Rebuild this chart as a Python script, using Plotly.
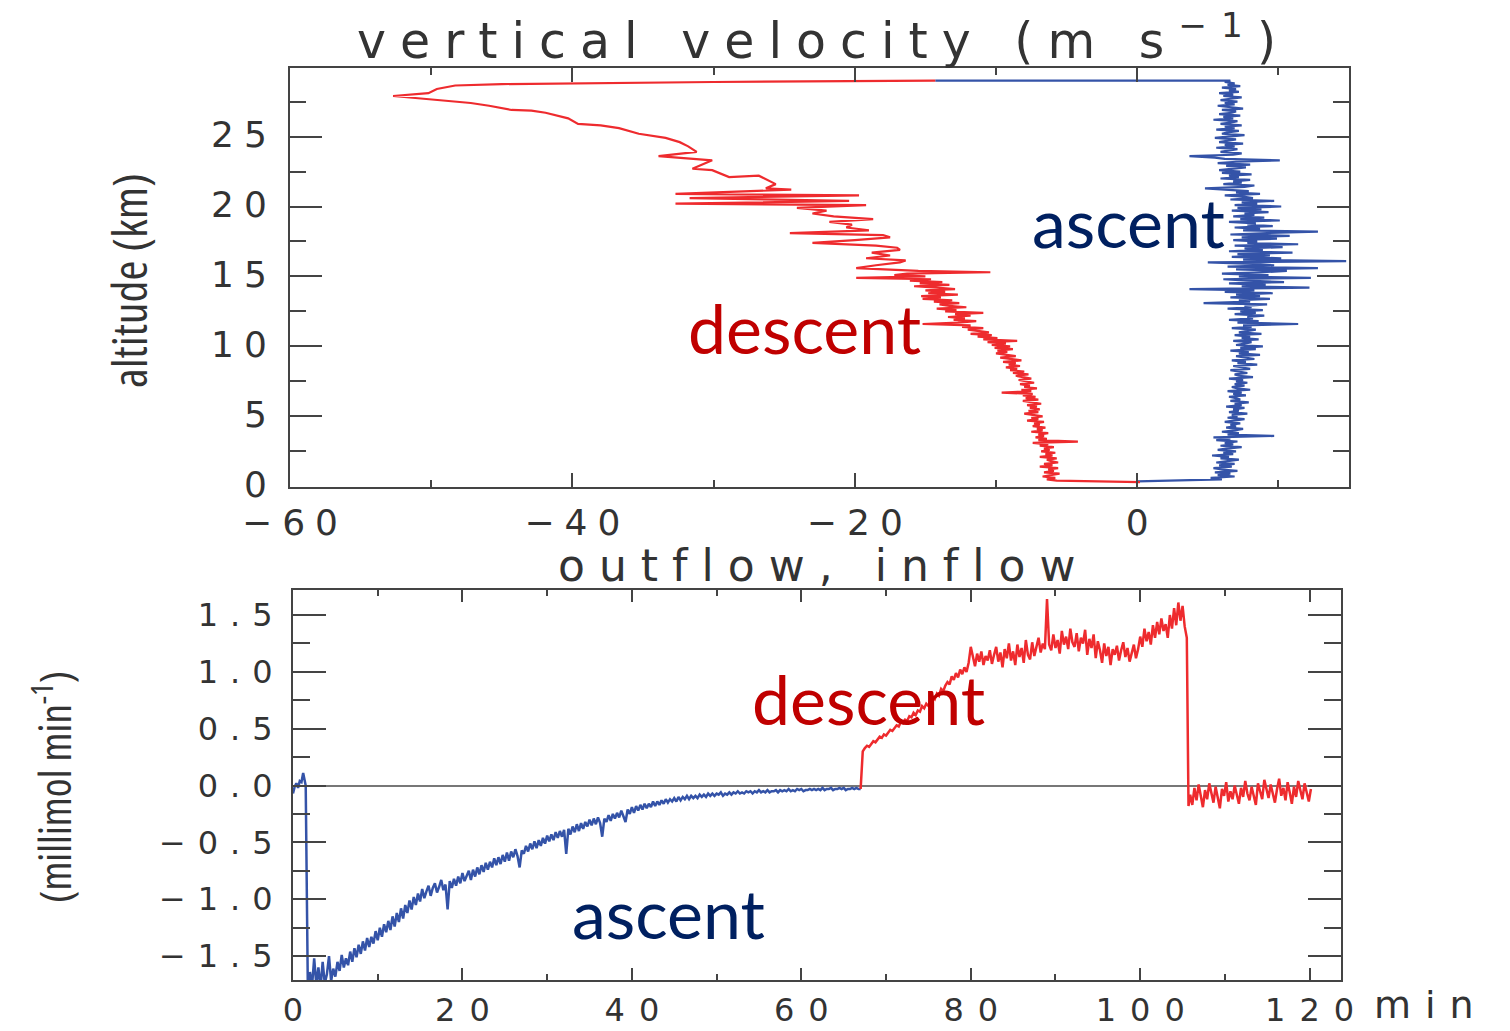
import numpy as np
import plotly.graph_objects as go

W, H = 1510, 1031

# ---------------- upper panel: vertical velocity profile ----------------
# ascent: velocity (m/s) every 0.1 km from 0.5 km up to the burst at 29 km
ascent_alt_start = 0.5
ascent_alt_step = 0.1
ascent_velocity = [
    6.0, 5.2, 6.9, 5.7, 6.6, 5.5, 7.1, 6.0, 5.4, 6.7,
    5.8, 6.9, 5.6, 6.4, 7.2, 5.9, 6.5, 5.3, 6.8, 6.1,
    7.0, 5.7, 6.3, 7.4, 5.9, 6.8, 6.2, 7.1, 5.6, 6.6,
    5.4, 9.7, 6.4, 7.2, 6.0, 6.9, 7.5, 6.3, 7.0, 6.6,
    7.3, 6.2, 6.9, 7.6, 6.4, 7.1, 6.7, 7.8, 6.5, 7.2,
    6.8, 7.6, 6.3, 7.4, 6.9, 7.9, 6.6, 7.3, 7.0, 6.5,
    7.7, 6.8, 7.4, 6.4, 8.0, 7.1, 6.7, 7.6, 6.9, 7.8,
    7.0, 7.5, 6.5, 8.2, 7.2, 6.9, 7.8, 7.3, 6.6, 8.0,
    7.4, 6.8, 8.5, 7.1, 7.7, 6.7, 8.3, 7.5, 7.0, 8.7,
    7.2, 7.9, 6.6, 8.4, 7.3, 8.9, 7.0, 7.6, 8.1, 6.8,
    8.6, 7.4, 8.0, 6.9, 8.8, 7.2, 7.7, 8.4, 6.7, 8.1,
    7.5, 11.4, 7.1, 8.6, 6.5, 8.2, 7.8, 9.0, 6.9, 8.4,
    7.3, 8.9, 6.4, 8.1, 7.6, 9.2, 4.7, 8.0, 7.2, 9.4,
    6.6, 8.7, 7.0, 9.6, 6.2, 8.3, 3.7, 12.2, 7.4, 9.1,
    6.5, 10.4, 7.8, 6.1, 12.3, 7.2, 9.3, 6.0, 8.8, 10.6,
    7.0, 12.8, 6.4, 9.7, 8.2, 5.0, 14.8, 7.5, 10.2, 6.7,
    9.4, 7.1, 11.0, 6.5, 8.9, 7.6, 10.3, 6.9, 11.4, 7.8,
    8.5, 6.8, 9.9, 7.4, 10.8, 6.6, 9.2, 12.8, 7.5, 8.7,
    6.9, 9.6, 7.8, 8.4, 6.5, 10.1, 7.3, 9.0, 6.8, 8.3,
    7.6, 9.3, 6.7, 8.8, 7.1, 10.2, 6.9, 8.5, 7.4, 9.7,
    6.6, 8.2, 7.5, 6.2, 8.7, 7.0, 7.9, 6.4, 4.8, 7.6,
    8.3, 6.1, 7.4, 6.8, 8.0, 5.9, 7.2, 6.5, 8.1, 6.0,
    7.3, 5.8, 6.9, 7.7, 6.3, 8.0, 5.7, 7.0, 10.1, 6.2,
    5.5, 3.7, 6.8, 7.4, 5.9, 6.6, 7.1, 5.6, 6.9, 6.2,
    7.5, 5.8, 6.5, 7.0, 5.5, 6.8, 7.6, 6.0, 6.4, 7.2,
    5.6, 6.9, 6.2, 7.4, 5.9, 6.6, 7.1, 5.4, 6.8, 6.1,
    7.3, 5.8, 6.7, 7.0, 6.0, 7.5, 6.4, 5.7, 6.9, 6.2,
    7.1, 5.9, 6.6, 7.4, 6.1, 6.8, 5.8, 7.2, 6.5, 7.0,
    6.0, 7.3, 6.4, 6.9, 6.2, 6.6,
]
launch_velocity = 0.0
launch_alt = 0.35
burst_alt = 29.0

# descent above 15.5 km: (velocity, altitude) pairs from the burst downward
descent_upper_velocity = [
    -14.3, -30.0, -45.0, -48.3, -49.6, -50.2, -52.7, -51.6, -49.0, -47.2,
    -45.9, -44.3, -42.9, -41.9, -40.3, -39.6, -38.0, -36.7, -35.3, -33.4,
    -32.4, -31.8, -31.2, -33.9, -30.1, -31.5, -30.1, -28.9, -26.8, -25.6,
    -26.3, -24.5, -32.7, -19.7, -31.7, -20.4, -32.7, -19.2, -24.1, -22.0,
    -23.0, -21.5, -18.7, -21.8, -20.2, -20.6, -19.0, -24.6, -18.0, -17.5,
    -20.0, -23.0, -18.5, -17.0, -16.8, -18.8, -17.5, -19.2, -16.4, -16.8,
    -18.5, -19.9,
]
descent_upper_alt = [
    29.0, 28.9, 28.75, 28.65, 28.4, 28.1, 27.9, 27.8, 27.6, 27.4,
    27.2, 26.9, 26.85, 26.7, 26.3, 25.9, 25.8, 25.6, 25.2, 24.9,
    24.6, 24.3, 23.9, 23.6, 23.3, 22.7, 22.6, 22.1, 22.2, 21.6,
    21.3, 21.2, 20.9, 20.8, 20.6, 20.4, 20.2, 20.1, 19.9, 19.7,
    19.5, 19.3, 19.1, 18.9, 18.7, 18.5, 18.3, 18.1, 17.95, 17.8,
    17.6, 17.4, 17.2, 17.05, 16.9, 16.7, 16.5, 16.3, 16.15, 16.0,
    15.8, 15.6,
]
# descent below: velocity every 0.1 km from 15.4 km down to 0.4 km
descent_lower_alt_start = 15.4
descent_lower_alt_step = -0.1
descent_lower_velocity = [
    -15.5, -10.4, -16.3, -17.2, -15.0, -19.9, -14.6, -16.1, -13.8, -15.4,
    -13.3, -15.8, -14.2, -12.9, -15.0, -13.6, -14.8, -12.7, -15.3, -13.9,
    -15.2, -13.1, -14.4, -12.6, -14.0, -13.3, -12.1, -14.2, -12.8, -13.6,
    -10.9, -12.9, -11.8, -13.4, -12.2, -13.0, -11.4, -12.7, -15.2, -11.8,
    -12.4, -10.9, -12.0, -11.2, -10.5, -11.8, -10.3, -11.3, -9.9, -10.9,
    -8.5, -10.6, -9.3, -10.3, -9.0, -10.1, -8.8, -9.9, -9.2, -10.0,
    -9.4, -8.6, -9.7, -8.9, -8.2, -9.5, -8.6, -9.1, -8.3, -9.3,
    -8.5, -9.0, -8.0, -8.8, -7.7, -8.6, -8.1, -7.5, -8.4, -7.9,
    -7.3, -8.3, -7.6, -8.0, -7.1, -8.2, -7.5, -9.6, -7.4, -8.1,
    -7.2, -7.9, -7.0, -8.1, -7.4, -6.8, -7.8, -7.1, -7.6, -6.9,
    -7.7, -7.0, -8.0, -7.2, -6.7, -7.5, -7.0, -7.8, -6.6, -7.3,
    -6.9, -7.4, -6.5, -7.1, -6.7, -7.5, -6.3, -7.0, -6.6, -7.2,
    -6.4, -7.0, -4.2, -7.4, -6.3, -6.9, -5.9, -6.6, -6.2, -6.8,
    -5.8, -6.5, -6.0, -6.9, -5.7, -6.4, -6.1, -5.6, -6.6, -6.0,
    -6.9, -5.6, -6.3, -5.9, -6.6, -5.5, -6.2, -6.7, -5.8, -6.4,
    -5.7,
]
landing_velocity = 0.2
landing_alt = 0.3

# ---------------- lower panel: flow (millimol/min) vs time ----------------
flow_prelaunch_t = [0.0, 0.2, 0.4, 0.6, 0.8, 1.0, 1.2, 1.4, 1.5]
flow_prelaunch = [-0.07, -0.01, 0.02, -0.02, 0.04, 0.03, 0.11, 0.02, 0.0]

flow_step = 0.25
flow_ascent_t0 = 1.75
flow_ascent = [
    -1.78, -1.64, -1.76, -1.52, -1.75, -1.60, -1.78, -1.55, -1.74, -1.66,
    -1.50, -1.72, -1.61, -1.68, -1.55, -1.63, -1.49, -1.60, -1.52, -1.58,
    -1.46, -1.55, -1.43, -1.51, -1.40, -1.48, -1.37, -1.45, -1.34, -1.42,
    -1.33, -1.39, -1.28, -1.36, -1.25, -1.33, -1.22, -1.29, -1.19, -1.27,
    -1.15, -1.24, -1.12, -1.20, -1.08, -1.17, -1.05, -1.12, -1.01, -1.09,
    -0.98, -1.05, -0.95, -1.02, -0.91, -0.99, -0.93, -0.88, -0.97, -0.90,
    -0.86, -0.94, -0.89, -0.83, -0.92, -0.87, -1.09, -0.84, -0.90, -0.82,
    -0.88, -0.80, -0.86, -0.77, -0.84, -0.79, -0.75, -0.83, -0.74, -0.80,
    -0.72, -0.78, -0.70, -0.76, -0.68, -0.74, -0.67, -0.72, -0.64, -0.70,
    -0.63, -0.69, -0.61, -0.67, -0.59, -0.66, -0.58, -0.63, -0.56, -0.62,
    -0.72, -0.57, -0.60, -0.53, -0.58, -0.51, -0.56, -0.49, -0.55, -0.48,
    -0.53, -0.46, -0.51, -0.44, -0.49, -0.43, -0.48, -0.41, -0.46, -0.40,
    -0.45, -0.39, -0.60, -0.38, -0.43, -0.36, -0.41, -0.34, -0.40, -0.33,
    -0.38, -0.32, -0.36, -0.30, -0.35, -0.29, -0.34, -0.28, -0.33, -0.45,
    -0.29, -0.32, -0.26, -0.31, -0.25, -0.29, -0.24, -0.28, -0.22, -0.27,
    -0.32, -0.21, -0.25, -0.19, -0.24, -0.18, -0.22, -0.17, -0.21, -0.16,
    -0.20, -0.16, -0.19, -0.14, -0.18, -0.14, -0.17, -0.13, -0.16, -0.12,
    -0.15, -0.12, -0.14, -0.11, -0.14, -0.10, -0.13, -0.10, -0.12, -0.09,
    -0.12, -0.09, -0.11, -0.09, -0.11, -0.08, -0.10, -0.08, -0.10, -0.07,
    -0.09, -0.07, -0.09, -0.07, -0.08, -0.06, -0.09, -0.07, -0.08, -0.06,
    -0.08, -0.06, -0.07, -0.05, -0.07, -0.06, -0.07, -0.05, -0.06, -0.05,
    -0.07, -0.05, -0.06, -0.04, -0.06, -0.05, -0.06, -0.04, -0.06, -0.05,
    -0.05, -0.04, -0.06, -0.04, -0.05, -0.04, -0.05, -0.03, -0.05, -0.04,
    -0.05, -0.03, -0.04, -0.03, -0.05, -0.04, -0.04, -0.03, -0.04, -0.03,
    -0.04, -0.03, -0.04, -0.02, -0.04, -0.03, -0.03, -0.02, -0.04, -0.03,
    -0.03, -0.02, -0.03, -0.02, -0.04, -0.03, -0.03, -0.02, -0.03, -0.02,
    -0.03, -0.03,
]

flow_descent_t0 = 67.25
flow_descent = [
    0.30, 0.33, 0.35, 0.34, 0.37, 0.39, 0.38, 0.41, 0.43, 0.42,
    0.45, 0.44, 0.47, 0.49, 0.48, 0.51, 0.53, 0.52, 0.56, 0.55,
    0.58, 0.57, 0.61, 0.60, 0.64, 0.62, 0.66, 0.65, 0.70, 0.68,
    0.72, 0.70, 0.75, 0.78, 0.76, 0.81, 0.79, 0.85, 0.83, 0.88,
    0.91, 0.89, 0.96, 0.93, 0.99, 0.95, 1.02, 0.98, 1.04, 1.00,
    1.08, 1.22, 1.12, 1.05, 1.16, 1.09, 1.18, 1.06, 1.14, 1.10,
    1.19, 1.07, 1.15, 1.22, 1.09, 1.17, 1.04, 1.20, 1.12, 1.25,
    1.10, 1.18, 1.06, 1.24, 1.13, 1.21, 1.08, 1.28, 1.15, 1.11,
    1.26, 1.14, 1.22, 1.30, 1.17, 1.25, 1.20, 1.64, 1.24, 1.19,
    1.33, 1.21, 1.28, 1.16, 1.36, 1.24, 1.31, 1.20, 1.38, 1.26,
    1.22, 1.34, 1.18, 1.30, 1.25, 1.37, 1.15, 1.29, 1.21, 1.33,
    1.12, 1.27, 1.19, 1.08, 1.25, 1.14, 1.22, 1.06, 1.20, 1.15,
    1.23, 1.10, 1.19, 1.26, 1.13, 1.21, 1.09, 1.18, 1.24, 1.12,
    1.20, 1.31, 1.22, 1.38, 1.27, 1.35, 1.24, 1.41, 1.30, 1.44,
    1.33, 1.47, 1.36, 1.42, 1.30, 1.50, 1.38, 1.56, 1.41, 1.61,
    1.45, 1.58, 1.40, 1.30,
]
flow_drop_t = 105.7
flow_drop = -0.18

flow_landed_t0 = 105.9
flow_landed = [
    -0.08, -0.17, -0.02, -0.13, 0.01, -0.10, -0.19, -0.04, -0.12, 0.02,
    -0.07, -0.15, -0.01, -0.11, -0.20, -0.03, -0.09, 0.03, -0.14, -0.05,
    -0.12, 0.00, -0.08, -0.16, -0.02, -0.10, 0.04, -0.07, -0.13, -0.01,
    -0.09, -0.17, 0.02, -0.06, -0.12, 0.05, -0.04, -0.11, 0.01, -0.08,
    -0.15, -0.03, 0.06, -0.09, -0.02, -0.13, 0.03, -0.06, -0.16, -0.01,
    -0.10, 0.04, -0.05, -0.12, 0.02, -0.07, -0.14, -0.03,
]

# tick labels
vel_tickvals = [-60, -40, -20, 0]
vel_ticktext = ["\u221260", "\u221240", "\u221220", "0"]
alt_tickvals = [0, 5, 10, 15, 20, 25]
alt_ticktext = ["0", "5", "10", "15", "20", "25"]
time_tickvals = [0, 20, 40, 60, 80, 100, 120]
time_ticktext = ["0", "20", "40", "60", "80", "100", "120"]
flow_tickvals = [-1.5, -1.0, -0.5, 0.0, 0.5, 1.0, 1.5]
flow_ticktext = ["\u22121.5", "\u22121.0", "\u22120.5", "0.0", "0.5", "1.0", "1.5"]

# ---------------- build series ----------------
ascent_alt = ascent_alt_start + ascent_alt_step * np.arange(len(ascent_velocity))
asc_x = [launch_velocity] + ascent_velocity + [descent_upper_velocity[0]]
asc_y = [launch_alt] + list(ascent_alt) + [burst_alt]

lower_alt = descent_lower_alt_start + descent_lower_alt_step * np.arange(len(descent_lower_velocity))
desc_x = descent_upper_velocity + descent_lower_velocity + [landing_velocity]
desc_y = descent_upper_alt + list(lower_alt) + [landing_alt]

t_ascent = flow_ascent_t0 + flow_step * np.arange(len(flow_ascent))
t_descent = flow_descent_t0 + flow_step * np.arange(len(flow_descent))
t_landed = flow_landed_t0 + flow_step * np.arange(len(flow_landed))

blue_t = flow_prelaunch_t + list(t_ascent)
blue_v = flow_prelaunch + flow_ascent
red_t = [blue_t[-1]] + list(t_descent) + [flow_drop_t] + list(t_landed)
red_v = [blue_v[-1]] + flow_descent + [flow_drop] + flow_landed

RED = "#ee2b2e"
BLUE = "#3453a8"
AXC = "#444444"
TXT = "#333333"
HERSHEY = "DejaVu Sans"
NARROW = "Open Sans, Liberation Sans, sans-serif"
CALLOUT = "Lato, Open Sans, sans-serif"


def spaced(s, px):
    return f'<span style="letter-spacing:{px}px">{s}</span>'


def condensed(s):
    return f'<span style="font-stretch:75%">{s}</span>'


fig = go.Figure()
fig.add_trace(go.Scatter(x=asc_x, y=asc_y, mode="lines",
                         line=dict(color=BLUE, width=2.2), xaxis="x", yaxis="y"))
fig.add_trace(go.Scatter(x=desc_x, y=desc_y, mode="lines",
                         line=dict(color=RED, width=2.2), xaxis="x", yaxis="y"))
fig.add_trace(go.Scatter(x=blue_t, y=blue_v, mode="lines",
                         line=dict(color=BLUE, width=2.5), xaxis="x2", yaxis="y2"))
fig.add_trace(go.Scatter(x=red_t, y=red_v, mode="lines",
                         line=dict(color=RED, width=2.5), xaxis="x2", yaxis="y2"))

common = dict(showline=True, linecolor=AXC, linewidth=2, mirror="ticks",
              ticks="inside", tickcolor=AXC, tickwidth=2, showgrid=False,
              automargin=False)
top_font = dict(family=HERSHEY, size=36, color=TXT)
low_font = dict(family=HERSHEY, size=32, color=TXT)


def minor(dtick, length):
    return dict(dtick=dtick, tick0=0, ticks="inside", ticklen=length,
                tickcolor=AXC, tickwidth=2)


fig.update_layout(
    width=W, height=H, margin=dict(l=0, r=0, t=0, b=0, pad=0),
    paper_bgcolor="white", plot_bgcolor="white", showlegend=False,
    xaxis=dict(domain=[290 / W, 1349 / W], range=[-60, 15], anchor="y",
               tickvals=vel_tickvals, ticktext=[spaced(t, 10) for t in vel_ticktext],
               ticklen=14, minor=minor(10, 7), tickfont=top_font,
               zeroline=False, ticklabelstandoff=3, ticklabelshift=5, **common),
    yaxis=dict(domain=[1 - 487 / H, 1 - 68 / H], range=[-0.05, 29.9], anchor="x",
               tickvals=alt_tickvals, ticktext=[spaced(t, 10) for t in alt_ticktext],
               ticklen=32, minor=minor(2.5, 16), tickfont=top_font,
               zeroline=False, ticklabelstandoff=4, ticklabelshift=-2, **common),
    xaxis2=dict(domain=[293 / W, 1341 / W], range=[0, 123.7], anchor="y2",
                tickvals=time_tickvals, ticktext=[spaced(t, 14) for t in time_ticktext],
                ticklen=12, minor=minor(10, 6), tickfont=low_font,
                zeroline=False, ticklabelstandoff=1, ticklabelshift=7, **common),
    yaxis2=dict(domain=[1 - 980 / H, 1 - 590 / H], range=[-1.71, 1.72], anchor="x2",
                tickvals=flow_tickvals, ticktext=[spaced(t, 12) for t in flow_ticktext],
                ticklen=33, minor=minor(0.25, 17), tickfont=low_font,
                zeroline=True, zerolinecolor="#777777", zerolinewidth=1.5,
                ticklabelstandoff=0, **common),
)


def px(x, y):
    return x / W, 1 - y / H


def note(text, x, y, font, xanchor="center", yanchor="middle", angle=0):
    ax, ay = px(x, y)
    fig.add_annotation(text=text, x=ax, y=ay, xref="paper", yref="paper",
                       xanchor=xanchor, yanchor=yanchor, showarrow=False,
                       textangle=angle, font=font)


note(spaced("vertical velocity (m s<sup>\u22121</sup>)", 14), 823, 38,
     dict(family=HERSHEY, size=49, color=TXT))
note(spaced("outflow, inflow", 14), 823, 565, dict(family=HERSHEY, size=44, color=TXT))
note(spaced("min", 14), 1372, 1005, dict(family=HERSHEY, size=38, color=TXT), xanchor="left")
note(condensed("altitude (km)"), 128, 281, dict(family=NARROW, size=48, color=TXT), angle=-90)
note(condensed("(millimol min<sup>-1</sup>)"), 52, 787,
     dict(family=NARROW, size=43, color=TXT), angle=-90)

note("ascent", 1030, 222, dict(family=CALLOUT, size=68, color="#002060"), xanchor="left")
note("descent", 686, 328, dict(family=CALLOUT, size=68, color="#c00000"), xanchor="left")
note("descent", 750, 698, dict(family=CALLOUT, size=68, color="#c00000"), xanchor="left")
note("ascent", 570, 912, dict(family=CALLOUT, size=68, color="#002060"), xanchor="left")

fig.write_html("out.html", config={"displayModeBar": False})
